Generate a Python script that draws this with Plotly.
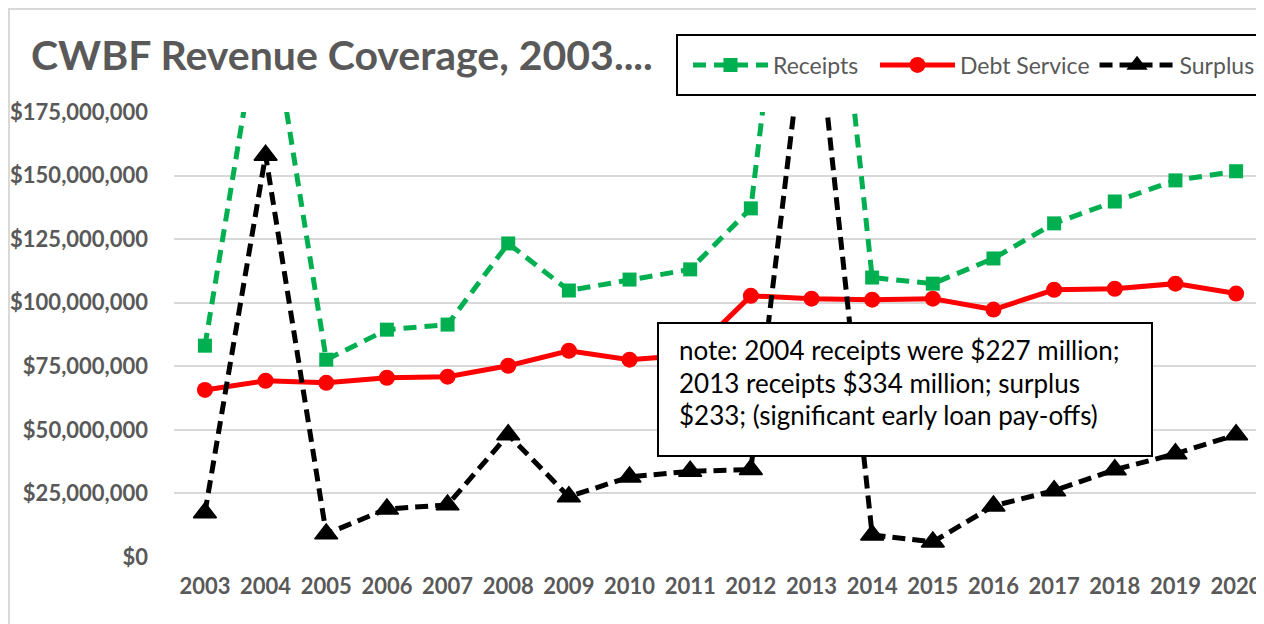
import plotly.graph_objects as go

years = list(range(2003, 2021))
receipts = [83.1e6, 227e6, 77.6e6, 89.4e6, 91.4e6, 123.3e6, 104.8e6, 109.1e6, 113.1e6,
            137.1e6, 334e6, 109.9e6, 107.5e6, 117.4e6, 131.2e6, 139.8e6, 148.1e6, 151.7e6]
debt_service = [65.7e6, 69.3e6, 68.5e6, 70.5e6, 70.9e6, 75.2e6, 81.1e6, 77.6e6, 79.4e6,
                102.7e6, 101.6e6, 101.2e6, 101.6e6, 97.3e6, 105.1e6, 105.5e6, 107.5e6, 103.6e6]
surplus = [17.4e6, 158.0e6, 9.1e6, 18.9e6, 20.5e6, 48.1e6, 23.7e6, 31.5e6, 33.7e6,
           34.4e6, 233e6, 8.7e6, 5.9e6, 20.1e6, 26.1e6, 34.3e6, 40.6e6, 48.1e6]
y_ticks = [0, 25e6, 50e6, 75e6, 100e6, 125e6, 150e6, 175e6]
y_tick_labels = ["$0", "$25,000,000", "$50,000,000", "$75,000,000", "$100,000,000",
                 "$125,000,000", "$150,000,000", "$175,000,000"]
title_text = "CWBF Revenue Coverage, 2003...."
note_lines = ["note: 2004 receipts were $227 million;",
              "2013 receipts $334 million; surplus",
              "$233; (significant early loan pay-offs)"]

# the page body has an 8px margin; the figure is sized so it ends at the window edge
OFF = 8
FW, FH = 1264 - OFF, 624 - OFF
PL, PR, PT, PB = 174, 1264, 112, 557          # plot area, in window pixels
L, R, T, B = PL - OFF, 0, PT - OFF, FH - (PB - OFF)
pw, ph = PR - PL, PB - PT

def px(x):
    return (x - PL) / pw

def py(y):
    return (PB - y) / ph

GRAY = "#595959"
FONT = "Lato"
NB = "\u00a0"

fig = go.Figure()
fig.add_trace(go.Scatter(x=years, y=receipts, name="Receipts" + NB * 2, mode="lines+markers",
                         line=dict(color="#00B050", width=5, dash="13px,8px"),
                         marker=dict(symbol="square", size=14, color="#00B050")))
fig.add_trace(go.Scatter(x=years, y=debt_service, name="Debt Service", mode="lines+markers",
                         line=dict(color="#FF0000", width=5),
                         marker=dict(symbol="circle", size=16, color="#FF0000")))
fig.add_trace(go.Scatter(x=years, y=surplus, name="Surplus", mode="lines+markers",
                         line=dict(color="#000000", width=5, dash="13px,7px"),
                         marker=dict(symbol="triangle-up", size=20, color="#000000",
                                     line=dict(color="#000000", width=1.5))))

fig.update_layout(
    width=FW, height=FH,
    margin=dict(l=L, r=R, t=T, b=B, pad=0),
    paper_bgcolor="white", plot_bgcolor="white",
    font=dict(family=FONT, color=GRAY),
    showlegend=True,
    legend=dict(orientation="h", x=px(688), y=py(65), xanchor="left", yanchor="middle",
                bgcolor="rgba(0,0,0,0)", borderwidth=0, itemwidth=75,
                font=dict(size=23, color=GRAY, family=FONT), itemclick=False),
    xaxis=dict(range=[2002.49, 2020.46], tickmode="array", tickvals=years,
               ticktext=[str(y) for y in years], showgrid=False, zeroline=False,
               showline=False, ticks="", ticklabelstandoff=14,
               tickfont=dict(size=22, color=GRAY, family=FONT, weight="bold")),
    yaxis=dict(range=[0, 175e6], tickmode="array", tickvals=y_ticks,
               ticktext=y_tick_labels, showgrid=True, gridcolor="#D9D9D9",
               gridwidth=2, zeroline=False, showline=False, ticks="",
               ticklabelstandoff=25,
               tickfont=dict(size=22, color=GRAY, family=FONT, weight="bold")),
)

# outer chart border
fig.add_shape(type="rect", xref="paper", yref="paper", x0=px(9), x1=px(1300), y0=py(9), y1=py(700),
              line=dict(color="#D9D9D9", width=2), fillcolor="rgba(0,0,0,0)", layer="below")
# legend box
fig.add_shape(type="rect", xref="paper", yref="paper", x0=px(677), x1=px(1260), y0=py(35), y1=py(95),
              line=dict(color="black", width=2), fillcolor="white", layer="above")
# note box
fig.add_shape(type="rect", xref="paper", yref="paper", x0=px(658), x1=px(1152), y0=py(323), y1=py(456),
              line=dict(color="black", width=2), fillcolor="white", layer="above")

fig.add_annotation(x=px(29), y=py(55), xref="paper", yref="paper", xanchor="left", yanchor="middle",
                   text=title_text, showarrow=False,
                   font=dict(size=41, color=GRAY, family=FONT, weight="bold"))
for i, line in enumerate(note_lines):
    fig.add_annotation(x=px(677), y=py(350 + 32.5 * i), xref="paper", yref="paper",
                       xanchor="left", yanchor="middle", text=line, showarrow=False,
                       font=dict(size=26, color="black", family=FONT))

fig.write_html("out.html")
